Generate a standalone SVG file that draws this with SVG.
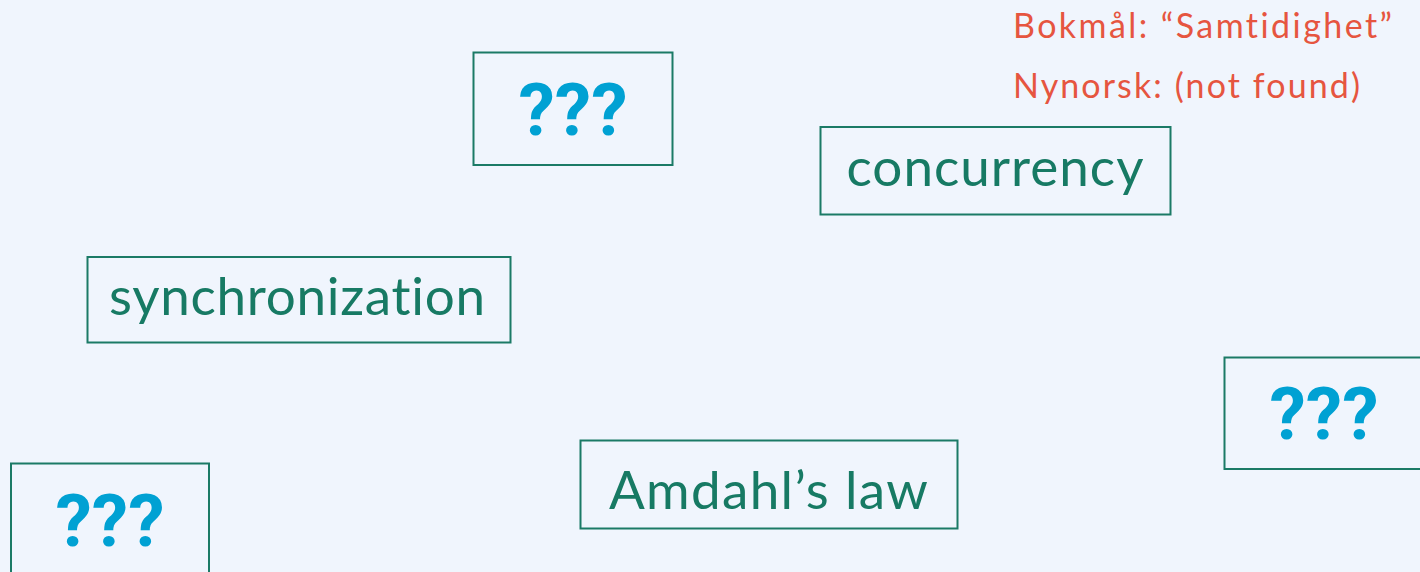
<svg xmlns="http://www.w3.org/2000/svg" width="1420" height="572" viewBox="0 0 1420 572">
<style>
text{font-variant-ligatures:none;font-feature-settings:"liga" 0}
.box{fill:none;stroke:#1b7a66;stroke-width:2}
.lbl{font-family:Lato,"Noto Sans",sans-serif;font-size:53px;fill:#177a64;text-anchor:middle}
.q{font-family:Roboto,"Liberation Sans",sans-serif;font-weight:bold;font-size:73px;fill:#00a1d3;text-anchor:middle}
.note{font-family:Lato,"Noto Sans",sans-serif;font-size:34px;fill:#e65540}
</style>
<rect width="1420" height="572" fill="#f0f5fd"/>
<g id="note">
<text class="note" x="1013" y="38" textLength="379" lengthAdjust="spacing">Bokmål: “Samtidighet”</text>
<text class="note" x="1013" y="98" textLength="347" lengthAdjust="spacing">Nynorsk: (not found)</text>
</g>
<g id="connectors"></g>
<g id="n-q1"><rect class="box" x="473.5" y="52.5" width="199" height="112.5"/><text class="q" x="573" y="135">???</text></g>
<g id="n-concurrency"><rect class="box" x="820.5" y="127" width="350" height="87.5"/><text class="lbl" x="995" y="186" textLength="297" lengthAdjust="spacing">concurrency</text></g>
<g id="n-synchronization"><rect class="box" x="87.5" y="257" width="423" height="85.5"/><text class="lbl" x="297" y="315" textLength="376" lengthAdjust="spacing">synchronization</text></g>
<g id="n-q2"><rect class="box" x="11" y="463.5" width="198" height="114"/><text class="q" x="110" y="546">???</text></g>
<g id="n-amdahl"><rect class="box" x="580.5" y="440.5" width="377" height="88"/><text class="lbl" x="768.5" y="509" textLength="319" lengthAdjust="spacing">Amdahl’s law</text></g>
<g id="n-q3"><rect class="box" x="1224.5" y="357.5" width="200" height="111.5"/><text class="q" x="1324" y="439">???</text></g>
</svg>
